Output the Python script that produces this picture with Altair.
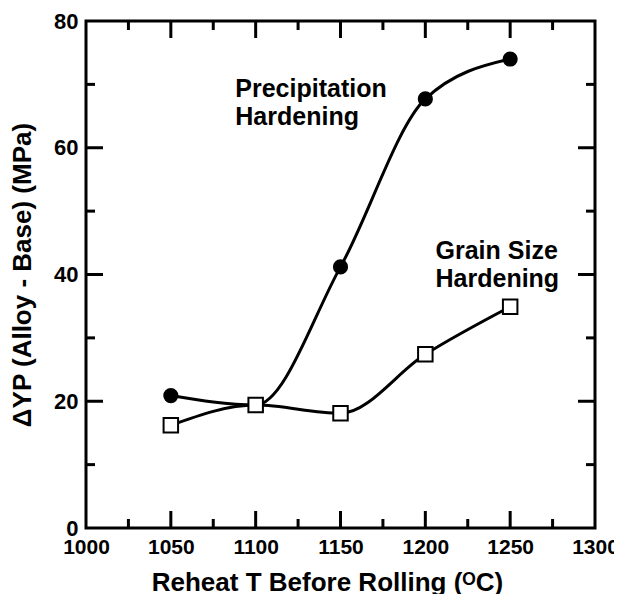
import altair as alt
import pandas as pd

# ---- data ----
temps = [1050, 1100, 1150, 1200, 1250]
precip = [20.9, 19.4, 41.2, 67.7, 74.0]
grain = [16.2, 19.4, 18.1, 27.4, 34.9]

x_major = [1050, 1100, 1150, 1200, 1250]
x_minor = [1025, 1075, 1125, 1175, 1225, 1275]
y_major = [20, 40, 60]
y_minor = [10, 30, 50, 70]

label_x = [1088, 1088, 1206, 1206]
label_y = [67.95, 63.6, 42.4, 38.1]
label_text = ["Precipitation", "Hardening", "Grain Size", "Hardening"]

W, H = 509, 507
FONT = "Liberation Sans"

df_p = pd.DataFrame({"T": temps, "v": precip})
df_g = pd.DataFrame({"T": temps, "v": grain})
df_xM = pd.DataFrame({"T": x_major})
df_xm = pd.DataFrame({"T": x_minor})
df_yM = pd.DataFrame({"v": y_major})
df_ym = pd.DataFrame({"v": y_minor})
df_lab = pd.DataFrame({"T": label_x, "v": label_y, "t": label_text})

xs = alt.Scale(domain=[1000, 1300], nice=False, zero=False)
ys = alt.Scale(domain=[0, 80], nice=False)

x_axis = alt.Axis(
    values=[1000, 1050, 1100, 1150, 1200, 1250, 1300], format="d",
    ticks=False, domain=False, grid=False,
    labelFont=FONT, labelFontSize=21, labelFontWeight="bold", labelColor="black",
    labelPadding=8, labelFlush=False, labelOverlap=False,
    title="Reheat T Before Rolling (ᴼC)", titleFont=FONT, titleFontSize=26,
    titleFontWeight="bold", titleColor="black", titlePadding=12, titleX=241,
)
y_axis = alt.Axis(
    values=[0, 20, 40, 60, 80], format="d",
    ticks=False, domain=False, grid=False,
    labelFont=FONT, labelFontSize=22, labelFontWeight="bold", labelColor="black",
    labelPadding=8, labelFlush=False, labelOverlap=False,
    title="ΔYP (Alloy - Base) (MPa)", titleFont=FONT, titleFontSize=26,
    titleFontWeight="bold", titleColor="black", titlePadding=18,
)

base_x = alt.X("T:Q", scale=xs, axis=x_axis)
base_y = alt.Y("v:Q", scale=ys, axis=y_axis)

line_p = alt.Chart(df_p).mark_line(interpolate="monotone", color="black", strokeWidth=3).encode(x=base_x, y=base_y)
line_g = alt.Chart(df_g).mark_line(interpolate="monotone", color="black", strokeWidth=3).encode(x=base_x, y=base_y)
pts_p = alt.Chart(df_p).mark_point(shape="circle", filled=True, color="black", size=230, opacity=1).encode(x=base_x, y=base_y)
pts_g = alt.Chart(df_g).mark_point(shape="square", filled=True, fill="white", stroke="black",
                                   strokeWidth=2, size=210, opacity=1).encode(x=base_x, y=base_y)

tick_style = dict(color="black", strokeWidth=3)
xt_bot_M = alt.Chart(df_xM).mark_rule(**tick_style).encode(x=alt.X("T:Q", scale=xs), y=alt.value(H), y2=alt.value(H - 17))
xt_top_M = alt.Chart(df_xM).mark_rule(**tick_style).encode(x=alt.X("T:Q", scale=xs), y=alt.value(0), y2=alt.value(17))
xt_bot_m = alt.Chart(df_xm).mark_rule(**tick_style).encode(x=alt.X("T:Q", scale=xs), y=alt.value(H), y2=alt.value(H - 9))
xt_top_m = alt.Chart(df_xm).mark_rule(**tick_style).encode(x=alt.X("T:Q", scale=xs), y=alt.value(0), y2=alt.value(9))
yt_l_M = alt.Chart(df_yM).mark_rule(**tick_style).encode(y=alt.Y("v:Q", scale=ys), x=alt.value(0), x2=alt.value(17))
yt_r_M = alt.Chart(df_yM).mark_rule(**tick_style).encode(y=alt.Y("v:Q", scale=ys), x=alt.value(W), x2=alt.value(W - 17))
yt_l_m = alt.Chart(df_ym).mark_rule(**tick_style).encode(y=alt.Y("v:Q", scale=ys), x=alt.value(0), x2=alt.value(9))
yt_r_m = alt.Chart(df_ym).mark_rule(**tick_style).encode(y=alt.Y("v:Q", scale=ys), x=alt.value(W), x2=alt.value(W - 9))

labels = alt.Chart(df_lab).mark_text(
    align="left", baseline="alphabetic", font=FONT, fontSize=25, fontWeight="bold", color="black"
).encode(x=alt.X("T:Q", scale=xs), y=alt.Y("v:Q", scale=ys), text="t:N")

chart = alt.layer(
    line_p, line_g, pts_p, pts_g,
    xt_bot_M, xt_top_M, xt_bot_m, xt_top_m, yt_l_M, yt_r_M, yt_l_m, yt_r_m,
    labels,
).properties(
    width=W, height=H,
    autosize=alt.AutoSizeParams(type="none"),
    padding={"left": 78, "top": 13, "right": 19, "bottom": 66},
).configure(
    background="white"
).configure_view(
    stroke="black", strokeWidth=3
)

chart.save("out.html", embed_options={"renderer": "svg", "actions": False})
